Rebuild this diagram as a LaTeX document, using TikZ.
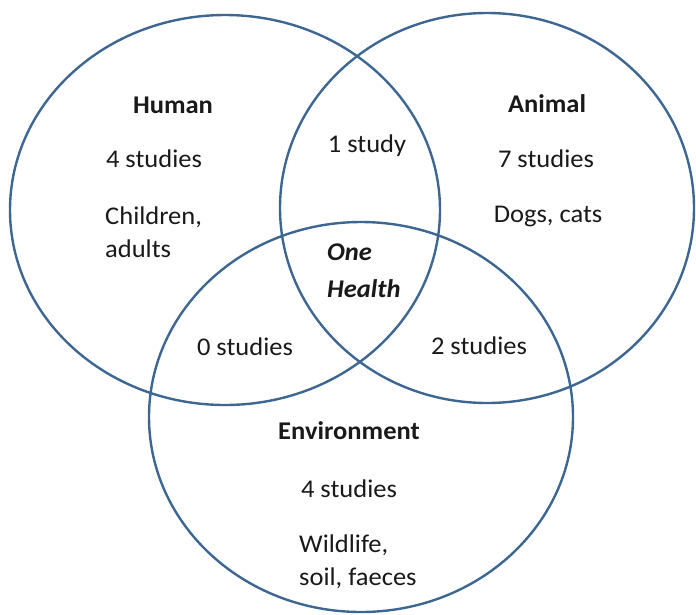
\documentclass[tikz,border=0pt]{standalone}
\usepackage{fontspec}
\setmainfont[FakeStretch=1.04]{Carlito}
\begin{document}
\begin{tikzpicture}[x=1pt,y=-1pt,
  ring/.style={draw=ringblue,line width=2.4pt},
  lbl/.style={inner sep=0pt,text=black!90,font=\fontsize{25.5}{31}\selectfont},
  head/.style={lbl,font=\fontsize{25.5}{31}\selectfont\bfseries}]
\definecolor{ringblue}{HTML}{3D6792}
\useasboundingbox (0,0) rectangle (696,614);
% the three sets
\draw[ring] (225,210) ellipse [x radius=215, y radius=195];
\draw[ring] (487,208) ellipse [x radius=207, y radius=195];
\draw[ring] (361,417) ellipse [x radius=212, y radius=195];
% Human
\node[head,anchor=base] (human) at (173,113) {Human};
\node[lbl,anchor=base] (hcount) at (154,167) {4 studies};
\node[lbl,anchor=base west] (hkind1) at (105,224) {Children,};
\node[lbl,anchor=base west] (hkind2) at (105,257) {adults};
% Animal
\node[head,anchor=base] (animal) at (547,112) {Animal};
\node[lbl,anchor=base] (acount) at (546,167) {7 studies};
\node[lbl,anchor=base] (akind) at (548,222) {Dogs, cats};
% Environment
\node[head,anchor=base] (env) at (349,439) {Environment};
\node[lbl,anchor=base] (ecount) at (349,497) {4 studies};
\node[lbl,anchor=base west] (ekind1) at (299,552) {Wildlife,};
\node[lbl,anchor=base west] (ekind2) at (299,585) {soil, faeces};
% overlaps
\node[lbl,anchor=base] (ha) at (367,152) {1 study};
\node[lbl,anchor=base] (he) at (245,355) {0 studies};
\node[lbl,anchor=base] (ae) at (479,354) {2 studies};
\node[lbl,anchor=base west,font=\fontsize{25.5}{31}\selectfont\bfseries\itshape] (one1) at (327,260) {One};
\node[lbl,anchor=base west,font=\fontsize{25.5}{31}\selectfont\bfseries\itshape] (one2) at (327,297) {Health};
\end{tikzpicture}
\end{document}
